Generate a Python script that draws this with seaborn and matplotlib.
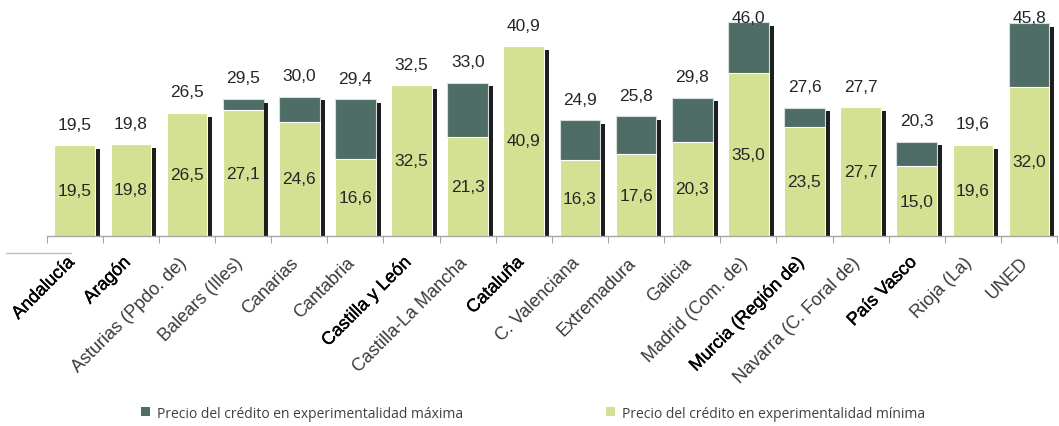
import numpy as np
import pandas as pd
import matplotlib
matplotlib.use("Agg")
import matplotlib.pyplot as plt
import matplotlib.transforms as mtransforms
import matplotlib.patheffects as pe
import seaborn as sns
from matplotlib.patches import Patch

categories = ["Andalucía", "Aragón", "Asturias (Ppdo. de)", "Balears (Illes)", "Canarias",
              "Cantabria", "Castilla y León", "Castilla-La Mancha", "Cataluña",
              "C. Valenciana", "Extremadura", "Galicia", "Madrid (Com. de)",
              "Murcia (Región de)", "Navarra (C. Foral de)", "País Vasco", "Rioja (La)", "UNED"]
precio_max = [19.5, 19.8, 26.5, 29.5, 30.0, 29.4, 32.5, 33.0, 40.9, 24.9, 25.8, 29.8,
              46.0, 27.6, 27.7, 20.3, 19.6, 45.8]
precio_min = [19.5, 19.8, 26.5, 27.1, 24.6, 16.6, 32.5, 21.3, 40.9, 16.3, 17.6, 20.3,
              35.0, 23.5, 27.7, 15.0, 19.6, 32.0]
bold_labels = ["Andalucía", "Aragón", "Castilla y León", "Cataluña", "Murcia (Región de)", "País Vasco"]

label_max = "Precio del crédito en experimentalidad máxima"
label_min = "Precio del crédito en experimentalidad mínima"

c_light = "#d5e192"
c_dark = "#4e6d67"
c_shadow = "#1e1e1e"
c_text = "#262626"

df = pd.DataFrame({"cat": categories, "max": precio_max, "min": precio_min})

sns.set_theme(style="white")
plt.rcParams["font.family"] = ["Liberation Sans", "DejaVu Sans"]

fig = plt.figure(figsize=(10.59, 4.27), dpi=100)
ax = fig.add_axes([0.0441, 0.445, 0.9541, 0.555])

sns.barplot(data=df, x="cat", y="max", color=c_dark, saturation=1, width=0.725,
            edgecolor="#d8dedc", linewidth=0.8, ax=ax)
sns.barplot(data=df, x="cat", y="min", color=c_light, saturation=1, width=0.725,
            edgecolor="white", linewidth=0.8, ax=ax)

x = np.arange(len(categories))
ax.bar(x + 0.415, np.array(precio_max) - 0.8, width=0.072, color=c_shadow, linewidth=0)

for i, (vmax, vmin) in enumerate(zip(precio_max, precio_min)):
    ax.text(i, min(vmax + 4.5, 47.0), f"{vmax:.1f}".replace(".", ","), ha="center",
            va="center", fontsize=12.5, color=c_text)
    ax.text(i, vmin / 2, f"{vmin:.1f}".replace(".", ","), ha="center",
            va="center", fontsize=12.5, color=c_text)

ax.set_xlim(-0.5, len(categories) - 0.5)
ax.set_ylim(0, 51.0)
ax.set_xlabel("")
ax.set_ylabel("")
ax.set_yticks([])
for s in ["top", "right", "left"]:
    ax.spines[s].set_visible(False)
ax.spines["bottom"].set_color("#a6a6a6")
ax.spines["bottom"].set_linewidth(1)

# boundary ticks
ax.set_xticks(np.arange(-0.5, len(categories)), minor=True)
ax.tick_params(axis="x", which="minor", bottom=True, length=5, width=0.8, color="#a6a6a6")
ax.tick_params(axis="x", which="major", bottom=False, pad=7)
ax.set_xticks(x)
ax.set_xticklabels(categories, rotation=45, ha="right", rotation_mode="anchor")
offset = mtransforms.ScaledTranslation(-9 / 100, 0, fig.dpi_scale_trans)
for t in ax.get_xticklabels():
    t.set_fontsize(13)
    t.set_transform(t.get_transform() + offset)
    if t.get_text() in bold_labels:
        t.set_color("black")
        t.set_path_effects([pe.withStroke(linewidth=0.3, foreground="black")])
    else:
        t.set_color("#3a3a3a")

# small line under the axis at left
fig.add_artist(plt.Line2D([6 / 1059, 70.7 / 1059], [1 - 254.3 / 427] * 2, color="#bfbfbf", lw=1))

handles = [Patch(facecolor=c_dark, edgecolor="none"), Patch(facecolor=c_light, edgecolor="none")]
fig.legend(handles, [label_max, label_min], loc="center left", bbox_to_anchor=(0.121, 0.03),
           ncol=2, frameon=False, prop={"family": "Open Sans", "size": 10},
           handlelength=0.65, handleheight=0.65, handletextpad=0.5, columnspacing=10.3,
           labelcolor="#404040")

fig.savefig("out.png", dpi=100)
